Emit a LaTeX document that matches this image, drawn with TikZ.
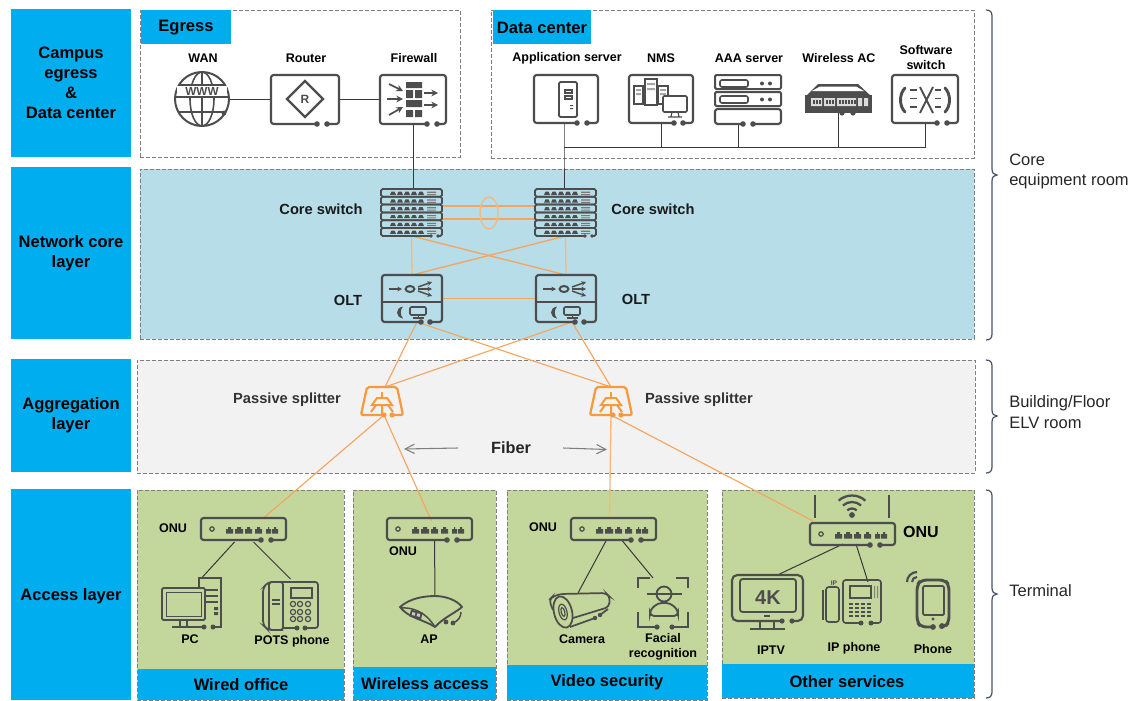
\documentclass[tikz,border=0pt]{standalone}
\usepackage{fontspec}
\setmainfont{Liberation Sans}
\usetikzlibrary{fit,calc,arrows.meta}
\definecolor{tagblue}{HTML}{00AEEF}
\definecolor{coreblue}{HTML}{B7DDE8}
\definecolor{agggray}{HTML}{F2F2F2}
\definecolor{accgreen}{HTML}{C3D69B}
\definecolor{icgray}{HTML}{4D4D4D}
\definecolor{dashgray}{HTML}{7F7F7F}
\definecolor{fibre}{HTML}{F5A55F}
\definecolor{splitorange}{HTML}{F79A3E}
\definecolor{bracecol}{HTML}{44546A}
\tikzset{
  x=0.75pt,y=-0.75pt,
  box/.style={inner sep=0pt,outer sep=0pt},
  panel/.style={box,draw=dashgray,line width=0.7pt,dash pattern=on 2.7pt off 1.8pt},
  tagbox/.style={box,fill=tagblue},
  tagtxt/.style={inner sep=0pt,text=black,font=\fontsize{12.4}{15}\selectfont\bfseries,align=center},
  lab/.style={inner sep=0pt,text=black,font=\fontsize{9.4}{11.2}\selectfont\bfseries,align=center},
  biglab/.style={inner sep=0pt,text=black!90,font=\fontsize{11}{13}\selectfont\bfseries},
  roomlab/.style={inner sep=0pt,anchor=west,text=black!85,align=left,font=\fontsize{12.4}{15.6}\selectfont},
  ic/.style={draw=icgray,line width=1.6pt},
  icn/.style={draw=icgray,line width=0.9pt},
  icf/.style={fill=icgray,draw=none},
  wire/.style={draw=black!78,line width=0.75pt},
  fiber/.style={draw=fibre,line width=0.85pt},
  fiberlt/.style={draw=fibre!80,line width=1pt},
  spl/.style={draw=splitorange,line width=1.7pt},
}
\newcommand\gapframe[6]{%
  \draw[ic,rounded corners=2pt] (#5,#4) -- (#1,#4) -- (#1,#2) -- (#3,#2) -- (#3,#4) -- (#6,#4);
  \fill[icf] (#5,#4) circle (2.8) (#6,#4) circle (2.8);}
\newcommand\bracemark[3]{% y1 tip y2
  \draw[bracecol,line width=0.9pt] (986,#1) .. controls (990,#1) and (992,{#1+2}) .. (992,{#1+6}) -- (992,{#2-6}) .. controls (992,{#2-2}) and (994,#2) .. (997,#2) .. controls (994,#2) and (992,{#2+2}) .. (992,{#2+6}) -- (992,{#3-6}) .. controls (992,{#3-2}) and (990,#3) .. (986,#3);}
\newcommand\coreicon{%
  \foreach \i in {0,...,4} {
    \draw[icn,line width=1.3pt,rounded corners=1.2pt] (0,\i*7.8) rectangle (61,\i*7.8+7.8);
  }
  \draw[icn,line width=1.3pt,rounded corners=1.2pt] (50,47) -- (0,47) -- (0,39) -- (61,39) -- (61,47) -- (57,47);
  \fill[icf] (50,47) circle (1.9) (57,47) circle (1.9);
  \foreach \i in {0,...,5} {
    \foreach \j in {0,...,4} {
      \fill[icf] (9+\j*7,\i*7.8+5.8) -- (10.5+\j*7,\i*7.8+2.6) -- (13.5+\j*7,\i*7.8+2.6) -- (15+\j*7,\i*7.8+5.8) -- cycle;
    }
    \fill[icgray!75] (46,\i*7.8+2.6) rectangle (55,\i*7.8+3.8) (46,\i*7.8+5) rectangle (55,\i*7.8+6);
  }}
\newcommand\olticon{%
  \gapframe{0}{0}{60}{47}{39}{48}
  \draw[icn,line width=1.5pt] (0,27) -- (60,27);
  \draw[icn,line width=1.1pt,-{Stealth[length=3.5pt,width=3.5pt]}] (7,14) -- (20,14);
  \draw[icn,line width=1.5pt] (28,14) ellipse (4.4 and 3);
  \draw[icn,line width=1.1pt,-{Stealth[length=3.5pt,width=3.5pt]}] (36,12) -- (50,7);
  \draw[icn,line width=1.1pt,-{Stealth[length=3.5pt,width=3.5pt]}] (36,14) -- (50,14);
  \draw[icn,line width=1.1pt,-{Stealth[length=3.5pt,width=3.5pt]}] (36,16) -- (50,21);
  \fill[icf] (21,31.5) .. controls (13,33) and (13,42) .. (21,43.5) .. controls (18,40) and (18,35) .. (21,31.5) -- cycle;
  \draw[icn,line width=1.2pt,rounded corners=1pt] (28,32) rectangle (44,40);
  \draw[icn,line width=1.2pt] (31,43) -- (42,43) (36.5,40) -- (36.5,43);}
\newcommand\onuicon{%
  \gapframe{0}{0}{85}{22}{60}{70}
  \draw[icn] (11,11) circle (2.2);
  \foreach \a/\b in {25/32,34/42,44/51,54/61,65/70,71/77} {
    \fill[icf] (\a,15.5) -- (\a,11) -- (\a+2,11) -- (\a+2,9) -- (\b-2,9) -- (\b-2,11) -- (\b,11) -- (\b,15.5) -- cycle;
  }}
\newcommand\splicon{%
  \draw[spl,rounded corners=1.5pt] (0,28) -- (-21,28) -- (-15,0) -- (15,0) -- (21,28) -- (10,28);
  \fill[splitorange] (2,28) circle (2.6) (10,28) circle (2.6);
  \draw[spl,line width=1.5pt] (0,5) -- (0,11);
  \draw[spl,line width=1.5pt] (-5,11) -- (5,11) -- (10,18) -- (-10,18) -- cycle;
  \draw[spl,line width=1.5pt] (-6,18) -- (-11,25) (6,18) -- (11,25) (0,18) -- (0,27);}
\begin{document}
\begin{tikzpicture}
\useasboundingbox (0,0) rectangle (1135,700);
% left column
\node[tagbox,fit={(11,9)(131,157)}] (colcampus) {};
\node[tagbox,fit={(11,167)(131,339)}] (colcore) {};
\node[tagbox,fit={(11,359)(131,472)}] (colagg) {};
\node[tagbox,fit={(11,489)(131,700)}] (colacc) {};
\node[tagtxt] (colcampustxt) at (71,83) {Campus\\egress\\\&\\Data center};
\node[tagtxt] (colcoretxt) at (71,253) {Network core\\layer};
\node[tagtxt] (colaggtxt) at (71,415.5) {Aggregation\\layer};
\node[tagtxt] (colacctxt) at (71,596) {Access layer};
% panels
\node[panel,fill=white,fit={(140,10)(460,157)}] (pegress) {};
\node[panel,fill=white,fit={(491,10)(974,158)}] (pdc) {};
\node[panel,fill=coreblue,fit={(140,169)(974,339)}] (pcore) {};
\node[panel,fill=agggray,fit={(137,360)(975,473)}] (pagg) {};
\node[panel,fill=accgreen,fit={(137,490)(344,700)}] (pa1) {};
\node[panel,fill=accgreen,fit={(353,490)(496,700)}] (pa2) {};
\node[panel,fill=accgreen,fit={(507,490)(707,700)}] (pa3) {};
\node[panel,fill=accgreen,fit={(722,490)(974,698)}] (pa4) {};
\node[tagbox,fit={(141,10)(231,44)}] (tegress) {};
\node[tagbox,fit={(493,10)(591,44)}] (tdc) {};
\node[tagbox,fit={(138,669)(344,700)}] (t1) {};
\node[tagbox,fit={(354,667)(496,700)}] (t2) {};
\node[tagbox,fit={(507,665)(707,700)}] (t3) {};
\node[tagbox,fit={(722,664)(974,698)}] (t4) {};
\node[tagtxt] (tegresstxt) at (186,28) {Egress};
\node[tagtxt] (tdctxt) at (542,27.5) {Data center};
\node[tagtxt] (t1txt) at (241,685) {Wired office};
\node[tagtxt] (t2txt) at (425,684) {Wireless access};
\node[tagtxt] (t3txt) at (607,682.5) {Video security};
\node[tagtxt] (t4txt) at (847,681.5) {Other services};
% device nodes
\node[box,fit={(175,72)(229,127)}] (wan) {};
\node[box,fit={(271,75)(339,124)}] (router) {};
\node[box,fit={(380,75)(446,124)}] (firewall) {};
\node[box,fit={(534,75)(598,123)}] (appsrv) {};
\node[box,fit={(629,75)(693,123)}] (nms) {};
\node[box,fit={(715,75)(781,124)}] (aaa) {};
\node[box,fit={(805,84)(872,113)}] (ac) {};
\node[box,fit={(892,75)(958,123)}] (softsw) {};
\node[box,fit={(381,189)(442,236)}] (coreL) {};
\node[box,fit={(535,189)(596,236)}] (coreR) {};
\node[box,fit={(382,275)(442,322)}] (oltL) {};
\node[box,fit={(536,275)(596,322)}] (oltR) {};
\node[box,fit={(361,387)(403,415)}] (splL) {};
\node[box,fit={(590,387)(632,415)}] (splR) {};
\node[box,fit={(201,518)(286,540)}] (onuA) {};
\node[box,fit={(387,518)(472,540)}] (onuB) {};
\node[box,fit={(571,518)(656,540)}] (onuC) {};
\node[box,fit={(811,523)(893,544)}] (onuD) {};
\node[box,fit={(162,578)(221,627)}] (pc) {};
\node[box,fit={(263,580)(318,630)}] (pots) {};
\node[box,fit={(398,596)(463,627)}] (ap) {};
\node[box,fit={(550,593)(610,630)}] (camera) {};
\node[box,fit={(638,578)(688,627)}] (face) {};
\node[box,fit={(732,575)(803,629)}] (iptv) {};
\node[box,fit={(823,582)(881,623)}] (ipphone) {};
\coordinate (bus) at (564,147);
% wires
\draw[wire] (wan.east) -- (router.west);
\draw[wire] (router.east) -- (firewall.west);
\draw[wire] (firewall.south) -- (firewall.south |- coreL.north);
\draw[wire] ($(appsrv.south)+(-2,0)$) -- (bus) -- ($(appsrv.south)+(-2,67)$);
\draw[wire] (nms.south) |- (bus);
\draw[wire] ($(aaa.south)+(-10,0)$) |- (bus);
\draw[wire] (ac.south) |- (bus);
\draw[wire] (softsw.south) |- (bus);
\draw[wire] ($(onuA.south)+(-9,2)$) -- ($(pc.north)+(11,-1)$);
\draw[wire] ($(onuA.south)+(10,2)$) -- ($(pots.north)+(0,-1)$);
\draw[wire] ($(onuB.south)+(5,0)$) -- ($(ap.north)+(4.5,0)$);
\draw[wire] ($(onuC.south)+(-7,0)$) -- ($(camera.north)+(-2,0)$);
\draw[wire] ($(onuC.south)+(9,1)$) -- ($(face.north)-(10,0)$);
\draw[wire] ($(onuD.south)+(-9,0)$) -- ($(iptv.north)+(10,0)$);
\draw[wire] ($(onuD.south)+(4,0)$) -- ($(ipphone.north)+(16,0)$);
% fibers
\draw[fiber] ($(coreL.east)+(0,-6.5)$) -- ($(coreR.west)+(0,-6.5)$);
\draw[fiber] ($(coreL.east)+(0,6.5)$) -- ($(coreR.west)+(0,6.5)$);
\node[box,fit={(480,197)(498,229)}] (ringbox) {};
\draw[fiberlt] (ringbox.center) ellipse (9 and 16);
\draw[fiberlt] (coreL.south) -- (oltL.north);
\draw[fiberlt] (coreR.south) -- (oltR.north);
\draw[fiber,line width=1pt] (coreL.south) -- (oltR.north);
\draw[fiber,line width=1pt] (coreR.south) -- (oltL.north);
\draw[fiber,line width=1pt] (oltL.east) -- (oltR.west);
\draw[fiber] ($(oltL.south)+(5,0)$) -- ($(splL.north)+(3,0)$);
\draw[fiber] ($(oltL.south)+(5,0)$) -- (splR.north);
\draw[fiber] ($(oltR.south)+(6,0)$) -- ($(splL.north)+(3,0)$);
\draw[fiber] ($(oltR.south)+(6,0)$) -- (splR.north);
\draw[fiber] ($(splL.south)+(2,0)$) -- ($(onuA.north)+(20,0)$);
\draw[fiber] ($(splL.south)+(2,0)$) -- ($(onuB.north)+(2,3)$);
\draw[fiberlt] (splR.south) -- ($(onuC.north)-(4,1)$);
\draw[fiber] (splR.south) -- ($(onuD.north)+(-39,-2)$);
% Fiber
\node[inner sep=0pt,text=black!85,font=\fontsize{12.2}{14}\selectfont\bfseries] (fibertxt) at (511,448) {Fiber};
\coordinate (fibL) at (404,449);
\coordinate (fibR) at (607,449.5);
\draw[draw=dashgray,line width=0.8pt,-{Straight Barb[length=7pt,width=7pt]}] ($(fibertxt.west)+(-33,0)$) -- (fibL);
\draw[draw=dashgray,line width=0.8pt,-{Straight Barb[length=7pt,width=7pt]}] ($(fibertxt.east)+(32,0)$) -- (fibR);
% globe
\draw[ic,line width=1.5pt] (202,99) circle (27);
\draw[ic,line width=1.2pt] (202,99) ellipse (12 and 27) (202,72) -- (202,126);
\draw[ic,line width=1.2pt] (179,85) -- (225,85) (175.5,97) -- (228.5,97) (178.5,112) -- (225.5,112);
\fill[white] (177,86) rectangle (227,96);
\node[inner sep=0pt,text=icgray,font=\fontsize{8.8}{10}\selectfont\bfseries] (www) at (202,91.5) {WWW};
\fill[icf] (224,113) circle (2.4);
% router
\gapframe{271}{75}{339}{124}{317}{327}
\draw[ic] (305,81) -- (323,99) -- (305,117) -- (287,99) -- cycle;
\node[inner sep=0pt,text=icgray,font=\fontsize{9}{10}\selectfont\bfseries] (rtxt) at (305,99) {R};
% firewall
\gapframe{380}{75}{446}{124}{427}{437}
\fill[icf] (406,82) rectangle (422,88) (406,90) rectangle (413,98) (415,90) rectangle (422,98)
  (406,100) rectangle (422,107) (406,110) rectangle (413,117) (415,110) rectangle (422,117);
\foreach \a/\b/\c/\d in {389/84/403/91,387/99/403/99,389/115/403/107,424/93/438/93,424/105/438/105}{
  \draw[icn,line width=1.3pt,-{Stealth[length=5pt,width=5pt]}] (\a,\b) -- (\c,\d);}
% app server
\gapframe{534}{75}{598}{123}{577}{587}
\draw[ic,line width=1.4pt,rounded corners=1pt] (559,82) rectangle (577,117);
\draw[icn] (565,90) rectangle (572,93) (565,96) rectangle (572,99);
\fill[icf] (570,105) rectangle (573,106) (570,108) rectangle (573,109);
% NMS
\gapframe{629}{75}{693}{123}{674}{683}
\draw[icn] (634,86) rectangle (643,104) (645,79) rectangle (657,105) (658,86) rectangle (668,104);
\fill[icgray!50] (636,89) rectangle (641,91) (636,93) rectangle (641,95) (647,83) rectangle (655,85) (647,88) rectangle (655,90) (660,89) rectangle (666,91) (660,93) rectangle (666,95);
\draw[icn,line width=1.2pt,fill=white,rounded corners=1pt] (663,96) rectangle (687,112);
\draw[icn] (672,112) -- (671,117) (678,112) -- (679,117) (668,117) -- (682,117);
% AAA
\draw[ic,line width=1.5pt,rounded corners=1pt] (715,75) rectangle (781,89) (715,92) rectangle (781,106);
\gapframe{715}{109}{781}{124}{743}{753}
\draw[icn,line width=1.2pt,rounded corners=1.5pt] (720,80) rectangle (748,87) (720,96) rectangle (748,103);
\fill[icf] (762,83.5) circle (2) (770,83.5) circle (2) (762,99.5) circle (2) (770,99.5) circle (2);
% wireless AC
\fill[icf] (805,97) -- (818,84) -- (858,84) -- (872,97) -- cycle;
\fill[white] (812,91) -- (820,86.5) -- (856,86.5) -- (864,91) -- cycle;
\fill[icf] (805,95) rectangle (872,113);
\fill[white!80!icgray] (811,98) rectangle (822,106) (824,98) rectangle (835,106) (837,98) rectangle (856,106) (858,98) rectangle (862,106) (864,98) rectangle (868,106);
\foreach \p in {813,816,819,826,829,832,839,842,845,848,851,854}{\fill[icf] (\p,100) rectangle (\p+1.6,104);}
\fill[icf] (842,113) circle (2.6) (853,113) circle (2.6);
% software switch
\gapframe{892}{75}{958}{123}{937}{947}
\draw[ic,line width=2.2pt,line cap=round] (905,88) .. controls (899,94) and (899,106) .. (905,112);
\draw[ic,line width=2.2pt,line cap=round] (945,88) .. controls (951,94) and (951,106) .. (945,112);
\draw[icn,line width=1.4pt] (910,90) -- (917,90) (910,98.5) -- (917,98.5) (910,107) -- (917,107) (935,90) -- (941,90) (935,98.5) -- (941,98.5) (935,107) -- (941,107);
\draw[icn,line width=1.4pt] (920,87) -- (933,113) (933,87) -- (920,113);
% core switches
\begin{scope}[shift={(381,189)}]\coreicon\end{scope}
\begin{scope}[shift={(535,189)}]\coreicon\end{scope}
% OLT
\begin{scope}[shift={(382,275)}]\olticon\end{scope}
\begin{scope}[shift={(536,275)}]\olticon\end{scope}
% splitters
\begin{scope}[shift={(382,387)}]\splicon\end{scope}
\begin{scope}[shift={(611,387)}]\splicon\end{scope}
% ONU
\begin{scope}[shift={(201,518)}]\onuicon\end{scope}
\begin{scope}[shift={(387,518)}]\onuicon\end{scope}
\begin{scope}[shift={(571,518)}]\onuicon\end{scope}
\begin{scope}[shift={(810,523)}]\onuicon\end{scope}
\draw[icn,line width=1.4pt] (815,495) -- (815,518) (889,495) -- (889,518);
\fill[icf] (852,515) circle (2.9);
\foreach \r in {7,13.5,20}{\draw[icn,line width=1.7pt] (852,515.5) ++(228:\r) arc (228:312:\r);}
% PC
\draw[icn,line width=1.3pt] (199,588) -- (199,578) -- (221,578) -- (221,627) -- (213,627);
\fill[icf] (204,627) circle (2.5) (213,627) circle (2.5);
\draw[icn] (205,590) -- (218,590) (205,596) -- (218,596) (205,602) -- (218,602);
\fill[icf] (214,607) rectangle (218,610) (214,612) rectangle (218,615);
\draw[ic,line width=1.4pt,rounded corners=1pt] (162,588) rectangle (205,620);
\draw[icn,line width=0.7pt] (166,592) rectangle (201,616);
\draw[icn] (180,620) -- (180,627) (187,620) -- (187,627);
\draw[icn,line width=1.3pt] (172,627) -- (204,627);
% POTS
\draw[icn,line width=1.3pt,rounded corners=3pt] (283,582) -- (268,582) -- (263,588) -- (263,625) -- (268,630) -- (283,630);
\draw[icn,line width=1.3pt,rounded corners=2pt] (269,582) rectangle (283,630);
\draw[icn] (272,600) -- (280,600) (272,604) -- (280,604);
\draw[icn,line width=1.3pt,rounded corners=2pt] (297,628) -- (283,628) (283,582) -- (318,582) -- (318,628) -- (305,628);
\fill[icf] (297,628) circle (2.5) (305,628) circle (2.5);
\draw[icn,line width=1.1pt] (291,588) rectangle (312,598);
\foreach \px in {293,300,308}{\foreach \py in {604,612,619}{\draw[icn,line width=0.9pt] (\px,\py) circle (2.6);}}
% AP
\draw[ic,line width=1.4pt,line join=round] (400,607) .. controls (410,598) and (425,596) .. (435,596) .. controls (445,596) and (457,600) .. (462,607) .. controls (455,613) and (443,618) .. (435,627) .. controls (425,620) and (408,618) .. (400,607) -- cycle;
\draw[icn,line width=1.1pt] (400,608) .. controls (412,607) and (425,611) .. (435,627);
\draw[icn,line width=1.1pt] (453,623) .. controls (458,621) and (461,617) .. (461,612);
\fill[icf,rotate around={-14:(416,614.5)}] (410,611) rectangle (422,618);
\fill[white!70!icgray,rotate around={-14:(416,614.5)}] (412,613) rectangle (415,616) (417,613) rectangle (420,616);
\fill[icf] (446,622) circle (2.4) (453,623) circle (2.4);
% camera
\draw[ic,line width=1.3pt,rounded corners=3pt] (553,610) -- (549,600) -- (552,597) -- (560,594) -- (606,593) -- (610,597) -- (609,607) -- (573,618);
\draw[ic,line width=1.3pt,rotate around={14:(563,612)}] (563,612) ellipse (9 and 16);
\draw[icn,rotate around={14:(563,612)}] (563,612) ellipse (4 and 8) (563,612) ellipse (1.8 and 4.5);
\draw[ic,line width=1.3pt] (570,627) -- (595,618);
\draw[ic,line width=1.3pt] (600,615) -- (608,609);
\fill[icf] (595,618) circle (2.2) (600,615) circle (2.2);
% face
\draw[ic,line width=1.3pt] (638,588) -- (638,578) -- (650,578) (676,578) -- (688,578) -- (688,588) (638,612) -- (638,627) -- (657,627) (672,627) -- (688,627) -- (688,612);
\fill[icf] (657,627) circle (2.6) (672,627) circle (2.6);
\draw[icn] (647,594) -- (682,594);
\draw[ic,line width=1.4pt] (664,594) circle (7.5);
\draw[ic,line width=1.4pt,rounded corners=3pt] (650,616) -- (650,610) -- (658,603) -- (670,603) -- (678,610) -- (678,616) -- cycle;
% IPTV
\draw[ic,rounded corners=4pt] (782,621) -- (732,621) -- (732,575) -- (803,575) -- (803,621) -- (792,621);
\fill[icf] (782,621) circle (2.6) (792,621) circle (2.6);
\draw[ic,line width=1.4pt,rounded corners=2pt] (740,579) rectangle (796,612);
\node[inner sep=0pt,text=icgray,font=\fontsize{15}{16}\selectfont\bfseries] (fourk) at (768,598) {4K};
\draw[icn,line width=1.3pt] (760,621) -- (760,629) (774,621) -- (774,629) (750,629) -- (785,629);
\draw[icn,line width=1.3pt] (764,616) -- (770,616);
% IP phone
\draw[ic,line width=1.2pt,rounded corners=2pt] (826,622) rectangle (839,587);
\draw[icn,line width=1.6pt] (823,590) -- (823,620);
\node[inner sep=0pt,text=icgray,font=\fontsize{5}{6}\selectfont\bfseries] (iptag) at (834,583) {IP};
\draw[ic,line width=1.2pt,rounded corners=2pt] (861,623) -- (843,623) -- (843,580) -- (881,580) -- (881,623) -- (871,623);
\fill[icf] (861,623) circle (2.5) (871,623) circle (2.5);
\draw[icn,line width=1.1pt] (850,586) rectangle (871,598);
\foreach \px in {849,855,861,867}{\foreach \py in {603,607,611,615}{\fill[icf] (\px,\py) rectangle (\px+4,\py+2.4);}}
\fill[icgray!70] (874,586) rectangle (875,598) (877,586) rectangle (878,598);
% Phone
\draw[ic,line width=2.2pt,rounded corners=4pt] (933,627) -- (921,627) -- (917,622) -- (917,585) -- (921,580) -- (945,580) -- (949,585) -- (949,622) -- (945,627) -- (942,627);
\fill[icf] (933,627) circle (2.9) (942,626) circle (2.9) (933,619) circle (1.6);
\draw[icn,line width=1.4pt,rounded corners=1pt] (923,586) rectangle (944,615);
\foreach \r in {5,10}{\draw[icn,line width=1.6pt] (917,582) ++(180:\r) arc (180:270:\r);}
% labels
\node[lab] (lwan) at (203,58) {WAN};
\node[lab] (lrouter) at (306,58) {Router};
\node[lab] (lfw) at (414,58) {Firewall};
\node[lab] (lapp) at (567,58) {Application server};
\node[lab] (lnms) at (661,58) {NMS};
\node[lab] (laaa) at (749,58) {AAA server};
\node[lab] (lac) at (839,58) {Wireless AC};
\node[lab] (lsoft) at (926,57.5) {Software\\switch};
\node[biglab] (lcl) at (321,209) {Core switch};
\node[biglab] (lcr) at (653,209) {Core switch};
\node[biglab] (lol) at (348,300) {OLT};
\node[biglab] (lor) at (636,299) {OLT};
\node[biglab,text=black!80] (lsl) at (287,400) {Passive splitter};
\node[biglab,text=black!80] (lsr) at (699,400) {Passive splitter};
\node[lab] (lonua) at (173,528) {ONU};
\node[lab] (lonub) at (403,551) {ONU};
\node[lab] (lonuc) at (543,527) {ONU};
\node[lab,font=\fontsize{12}{14}\selectfont\bfseries] (lonud) at (921,532) {ONU};
\node[lab] (lpc) at (190,639) {PC};
\node[lab] (lpots) at (292,641) {POTS phone};
\node[lab] (lap) at (429,639) {AP};
\node[lab] (lcam) at (582,639) {Camera};
\node[lab] (lface) at (663,646.5) {Facial\\recognition};
\node[lab] (liptv) at (771,650) {IPTV};
\node[lab] (lipp) at (854,648) {IP phone};
\node[lab] (lphone) at (933,649) {Phone};
% braces
\bracemark{10}{175}{340}
\bracemark{360}{416}{473}
\bracemark{490}{594}{698}
\node[roomlab] (rcore) at (1009,171.5) {Core\\equipment room};
\node[roomlab] (rbuild) at (1009,412) {Building/Floor\\ELV room};
\node[roomlab] (rterm) at (1009,591) {Terminal};
\end{tikzpicture}
\end{document}
